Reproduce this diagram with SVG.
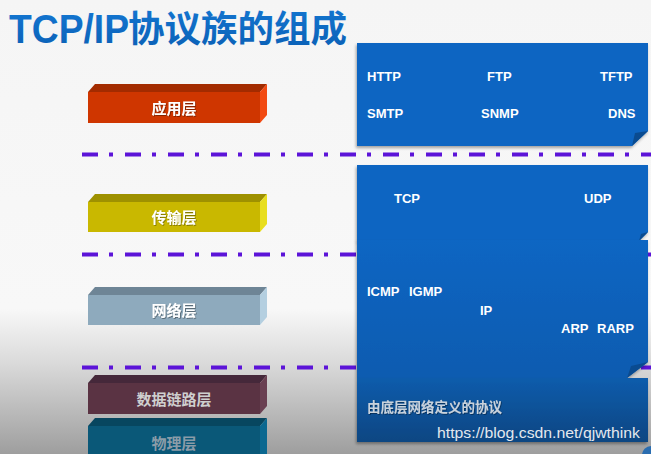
<svg xmlns="http://www.w3.org/2000/svg" width="651" height="454" viewBox="0 0 651 454">
<defs>
<linearGradient id="bg" x1="0" y1="0" x2="0" y2="1">
<stop offset="0" stop-color="#f5f5f5"/>
<stop offset="0.68" stop-color="#f8f8f8"/>
<stop offset="0.8" stop-color="#dadada"/>
<stop offset="1" stop-color="#9e9e9e"/>
</linearGradient>
<linearGradient id="titleG" x1="0" y1="0" x2="0" y2="1">
<stop offset="0" stop-color="#1478d4"/>
<stop offset="1" stop-color="#0a5fb4"/>
</linearGradient>
<linearGradient id="box3G" x1="0" y1="0" x2="0" y2="1">
<stop offset="0" stop-color="#0866c3"/>
<stop offset="1" stop-color="#095bb0"/>
</linearGradient>
<linearGradient id="box4G" x1="0" y1="0" x2="0" y2="1">
<stop offset="0" stop-color="#0a5cac"/>
<stop offset="1" stop-color="#0b4682"/>
</linearGradient>
<filter id="sh" x="-5%" y="-5%" width="110%" height="115%">
<feDropShadow dx="-1" dy="2" stdDeviation="1.5" flood-color="#000" flood-opacity="0.35"/>
</filter>
<filter id="ts" x="-10%" y="-20%" width="120%" height="150%">
<feDropShadow dx="0.8" dy="0.8" stdDeviation="0.5" flood-color="#000" flood-opacity="0.45"/>
</filter>
<style>
.sep{fill:none;stroke:#5c14d8;stroke-width:4;stroke-dasharray:16 11 4 12}
.bt{font-family:"Noto Sans CJK SC","Noto Sans",sans-serif;font-weight:bold;font-size:15px;text-anchor:middle}
.pt{font-family:"Liberation Sans",Arial,sans-serif;font-weight:bold;font-size:13px;fill:#ffffff}
.box{filter:url(#sh)}
.fold{fill:#0a4b90}
</style>
</defs>
<rect x="0" y="0" width="651" height="454" fill="url(#bg)"/>

<g id="title">
<text x="9" y="43" font-family="'Liberation Sans',Arial,sans-serif" font-weight="bold" font-size="41" fill="url(#titleG)" textLength="120" lengthAdjust="spacingAndGlyphs">TCP/IP</text>
<text x="128" y="42" font-family="'Noto Sans CJK SC',sans-serif" font-weight="bold" font-size="36.5" fill="url(#titleG)">协议族的组成</text>
</g>

<g id="separators">
<line class="sep" x1="82" y1="154.5" x2="651" y2="154.5"/>
<line class="sep" x1="82" y1="254.5" x2="651" y2="254.5"/>
<line class="sep" x1="82" y1="367.5" x2="651" y2="367.5"/>
</g>

<g id="layer-app">
<polygon points="88,92 95,84 267,84 260,92" fill="#a32b00"/>
<polygon points="260,92 267,84 267,115 260,123" fill="#f24a12"/>
<rect x="88" y="92" width="172" height="31" fill="#cf3600"/>
<text class="bt" x="174" y="113.5" fill="#ffffff" filter="url(#ts)">应用层</text>
</g>

<g id="layer-transport">
<polygon points="88,202 95,194 267,194 260,202" fill="#9e9100"/>
<polygon points="260,202 267,194 267,224 260,232" fill="#e8de1e"/>
<rect x="88" y="202" width="172" height="30" fill="#c9b800"/>
<text class="bt" x="174" y="223" fill="#ffffff" filter="url(#ts)">传输层</text>
</g>

<g id="layer-network">
<polygon points="88,295 95,287 267,287 260,295" fill="#6e8596"/>
<polygon points="260,295 267,287 267,317 260,325" fill="#b4cfe0"/>
<rect x="88" y="295" width="172" height="30" fill="#8eaabd"/>
<text class="bt" x="174" y="316" fill="#ffffff" filter="url(#ts)">网络层</text>
</g>

<g id="layer-datalink">
<polygon points="88,383 95,375 267,375 260,383" fill="#45283a"/>
<polygon points="260,383 267,375 267,406 260,414" fill="#6a4052"/>
<rect x="88" y="383" width="172" height="31" fill="#5a3343"/>
<text class="bt" x="174" y="405" fill="#cfcfcf">数据链路层</text>
</g>

<g id="layer-physical">
<polygon points="88,426 95,418 267,418 260,426" fill="#07465f"/>
<polygon points="260,426 267,418 267,454 260,454" fill="#0b6890"/>
<rect x="88" y="426" width="172" height="28" fill="#0a5878"/>
<text class="bt" x="174" y="449" fill="#8a9ca8">物理层</text>
</g>

<g id="box-app">
<polygon class="box" points="357,43 648,43 648,131 632,146 357,146" fill="#0765c2"/>
<polygon class="fold" points="648,131 632,146 635,133"/>
<text class="pt" x="367" y="81">HTTP</text>
<text class="pt" x="487" y="81">FTP</text>
<text class="pt" x="600" y="81">TFTP</text>
<text class="pt" x="367" y="118">SMTP</text>
<text class="pt" x="481" y="118">SNMP</text>
<text class="pt" x="608" y="118">DNS</text>
</g>

<g id="box-transport">
<polygon class="box" points="357,165 648,165 648,232 639,241 357,241" fill="#0765c2"/>
<polygon class="fold" points="648,232 639,241 641,234"/>
<text class="pt" x="394" y="203">TCP</text>
<text class="pt" x="584" y="203">UDP</text>
</g>

<g id="box-network">
<polygon class="box" points="357,240 648,240 648,362 627,378 357,378" fill="url(#box3G)"/>
<polygon class="fold" points="648,362 627,378 631,366"/>
<text class="pt" x="367" y="296">ICMP</text>
<text class="pt" x="409" y="296">IGMP</text>
<text class="pt" x="480" y="315">IP</text>
<text class="pt" x="561" y="333">ARP</text>
<text class="pt" x="597" y="333">RARP</text>
</g>

<g id="box-link">
<polygon class="box" points="357,378 648,378 648,442 357,442" fill="url(#box4G)"/>
<text x="367" y="412" font-family="'Noto Sans CJK SC',sans-serif" font-weight="bold" font-size="13.5" fill="#c9d2dc" filter="url(#ts)">由底层网络定义的协议</text>
</g>

<g id="watermark">
<text x="437" y="438" font-family="'Liberation Sans',Arial,sans-serif" font-size="15.5" fill="#e4e8ee" textLength="203" lengthAdjust="spacingAndGlyphs">https://blog.csdn.net/qjwthink</text>
<circle cx="651" cy="455" r="9" fill="#2a6db0"/>
</g>
</svg>
